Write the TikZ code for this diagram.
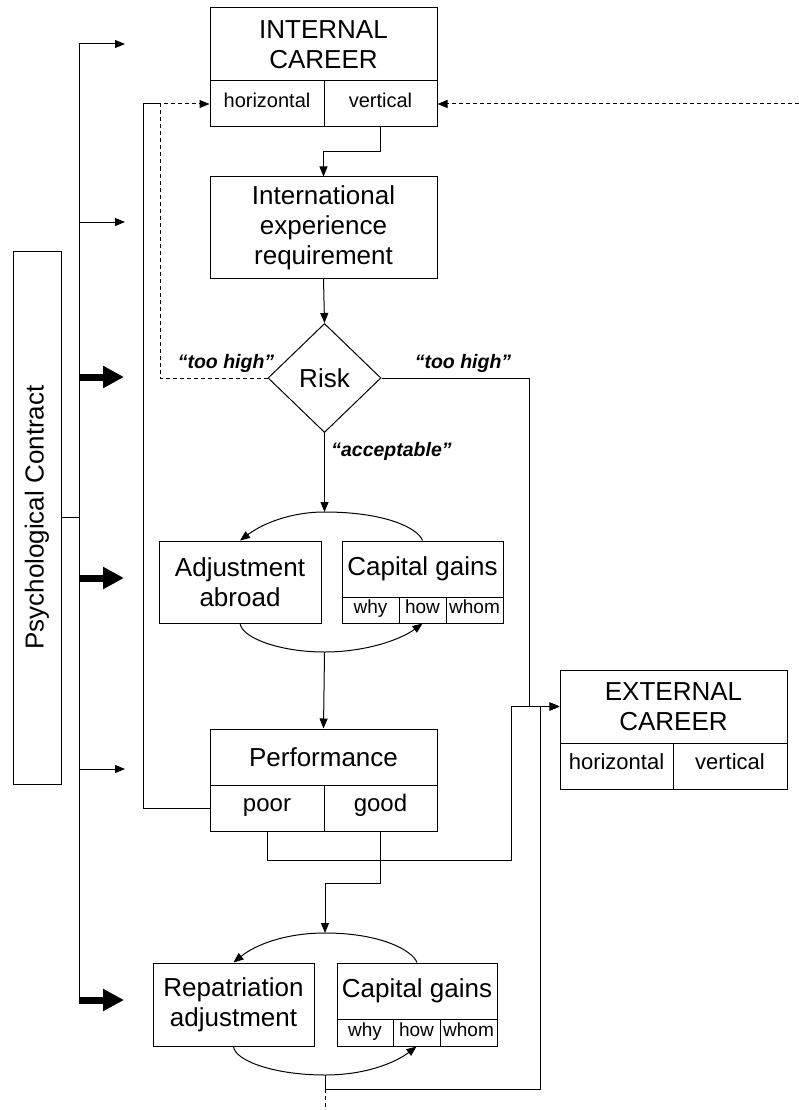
\documentclass[tikz,border=0pt]{standalone}
\usepackage{fontspec}
\setmainfont{Liberation Sans}
\usetikzlibrary{arrows.meta,shapes.geometric}
\tikzset{
  box/.style={draw, line width=1pt, inner sep=0pt, align=center, font=\fontsize{26}{30}\selectfont},
  cellbase/.style={draw, line width=1pt, inner sep=0pt, text height=0.8em, text depth=0.06em},
  cell/.style={cellbase, font=\fontsize{20}{24}\selectfont},
  bigcell/.style={cellbase, font=\fontsize{22}{26}\selectfont},
  pcell/.style={cellbase, font=\fontsize{24}{28}\selectfont},
  smallcell/.style={cellbase, font=\fontsize{19}{22}\selectfont},
  conn/.style={line width=1pt, -{Triangle[length=10pt,width=8pt]}},
  plain/.style={line width=1pt},
  dashln/.style={line width=1pt, dash pattern=on 4pt off 3pt},
  fat/.style={line width=7pt, -{Triangle[length=21pt,width=21pt]}},
  lbl/.style={inner sep=0pt, font=\fontsize{19.5}{22}\selectfont\bfseries\itshape},
}
\begin{document}
\begin{tikzpicture}[x=1pt,y=-1pt]
\useasboundingbox (0,0) rectangle (799,1110);
% Internal career
\node[box, minimum width=227pt, minimum height=73pt] (ic) at (323.5,44.5) {INTERNAL\\CAREER};
\node[cell, minimum width=114pt, minimum height=46pt] (ich) at (267,104) {horizontal};
\node[cell, minimum width=113pt, minimum height=46pt] (icv) at (380.5,104) {vertical};
% International experience requirement
\node[box, minimum width=227pt, minimum height=101pt] (ier) at (323.5,227.5) {International\\experience\\requirement};
% Risk
\node[box, diamond, minimum width=113pt, minimum height=109pt] (risk) at (324.5,378) {Risk};
% Adjustment abroad + capital gains
\node[box, minimum width=162pt, minimum height=82pt] (adj) at (240,582) {Adjustment\\abroad};
\node[box, minimum width=161pt, minimum height=56pt] (cg1) at (422.5,569) {Capital gains};
\node[smallcell, minimum width=57pt, minimum height=26pt] (why1) at (370.5,610) {why};
\node[smallcell, minimum width=47pt, minimum height=26pt] (how1) at (422.5,610) {how};
\node[smallcell, minimum width=57pt, minimum height=26pt] (whom1) at (474.5,610) {whom};
% Performance
\node[box, minimum width=227pt, minimum height=56pt] (perf) at (323.5,757) {Performance};
\node[pcell, minimum width=114pt, minimum height=46pt] (poor) at (267,808) {poor};
\node[pcell, minimum width=113pt, minimum height=46pt] (good) at (380.5,808) {good};
% External career
\node[box, minimum width=227pt, minimum height=73pt] (ec) at (673.5,706.5) {EXTERNAL\\CAREER};
\node[bigcell, minimum width=113pt, minimum height=46pt] (ech) at (616.5,766) {horizontal};
\node[bigcell, minimum width=114pt, minimum height=46pt] (ecv) at (730,766) {vertical};
% Repatriation + capital gains
\node[box, minimum width=161pt, minimum height=83pt] (rep) at (233.5,1004.5) {Repatriation\\adjustment};
\node[box, minimum width=160pt, minimum height=56pt] (cg2) at (417,991) {Capital gains};
\node[smallcell, minimum width=56pt, minimum height=27pt] (why2) at (365,1032.5) {why};
\node[smallcell, minimum width=47pt, minimum height=27pt] (how2) at (416.5,1032.5) {how};
\node[smallcell, minimum width=57pt, minimum height=27pt] (whom2) at (468.5,1032.5) {whom};
% Psychological contract
\node[box, rotate=90, minimum width=533pt, minimum height=48pt] (pc) at (37,517.5) {Psychological Contract};

% labels
\node[lbl] (th1) at (226,363) {“too high”};
\node[lbl] (th2) at (463,363) {“too high”};
\node[lbl] (acc) at (391.5,451) {“acceptable”};

% coordinates
\coordinate (a1t) at (324.5,512);
\coordinate (a1b) at (324.5,652);
\coordinate (a2t) at (325,933);
\coordinate (a2b) at (325,1075);
\coordinate (rin) at (799,104);
\coordinate (bend) at (325,1110);
\coordinate (tt) at (79,44);
\coordinate (tb) at (79,1000);

% connectors
\draw[conn] (icv.south) -- (380.5,152) -| (ier.north);
\draw[conn] (ier.south) -- (risk.north);
\draw[conn] (risk.south) -- (a1t);
\draw[conn] (cg1.north) .. controls (418,528) and (385,512) .. (a1t) .. controls (290,512) and (262,524) .. (adj.north);
\draw[conn] (adj.south) .. controls (242,638) and (280,652) .. (a1b) .. controls (365,652) and (400,640) .. (how1.south);
\draw[conn] (a1b) -- (perf.north);
\draw[conn, dashln] (risk.west) -- (160,378) -- (160,104) -- (ich.west);
\draw[plain] (poor.west) -- (143,808) -- (143,104) -- (160,104);
\draw[conn] (risk.east) -| (529,706.5) -- (ec.west);
\draw[conn] (poor.south) -- (267,860) -| (511,706.5) -- (ec.west);
\draw[conn] (good.south) -- (380.5,883) -| (a2t);
\draw[conn] (cg2.north) .. controls (412,950) and (380,933) .. (a2t) .. controls (285,933) and (255,945) .. (rep.north);
\draw[conn] (rep.south) .. controls (235,1061) and (275,1075) .. (a2b) .. controls (365,1075) and (395,1063) .. (how2.south);
\draw[conn] (a2b) -- (325,1089) -| (540,706.5) -- (ec.west);
\draw[dashln] (325,1089) -- (bend);
\draw[conn, dashln] (rin) -- (icv.east);

% psychological contract trunk
\draw[plain] (pc.south) -- (79,517.5);
\draw[plain] (tt) -- (tb);
\foreach \yy/\nm in {44/t1, 222/t2, 769/t3} {
  \coordinate (\nm) at (125,\yy);
  \draw[conn] (79,\yy) -- (\nm);
}
\foreach \yy/\nm in {377/f1, 578/f2, 1000/f3} {
  \coordinate (\nm) at (124,\yy);
  \draw[fat] (79,\yy) -- (\nm);
}
\end{tikzpicture}
\end{document}
